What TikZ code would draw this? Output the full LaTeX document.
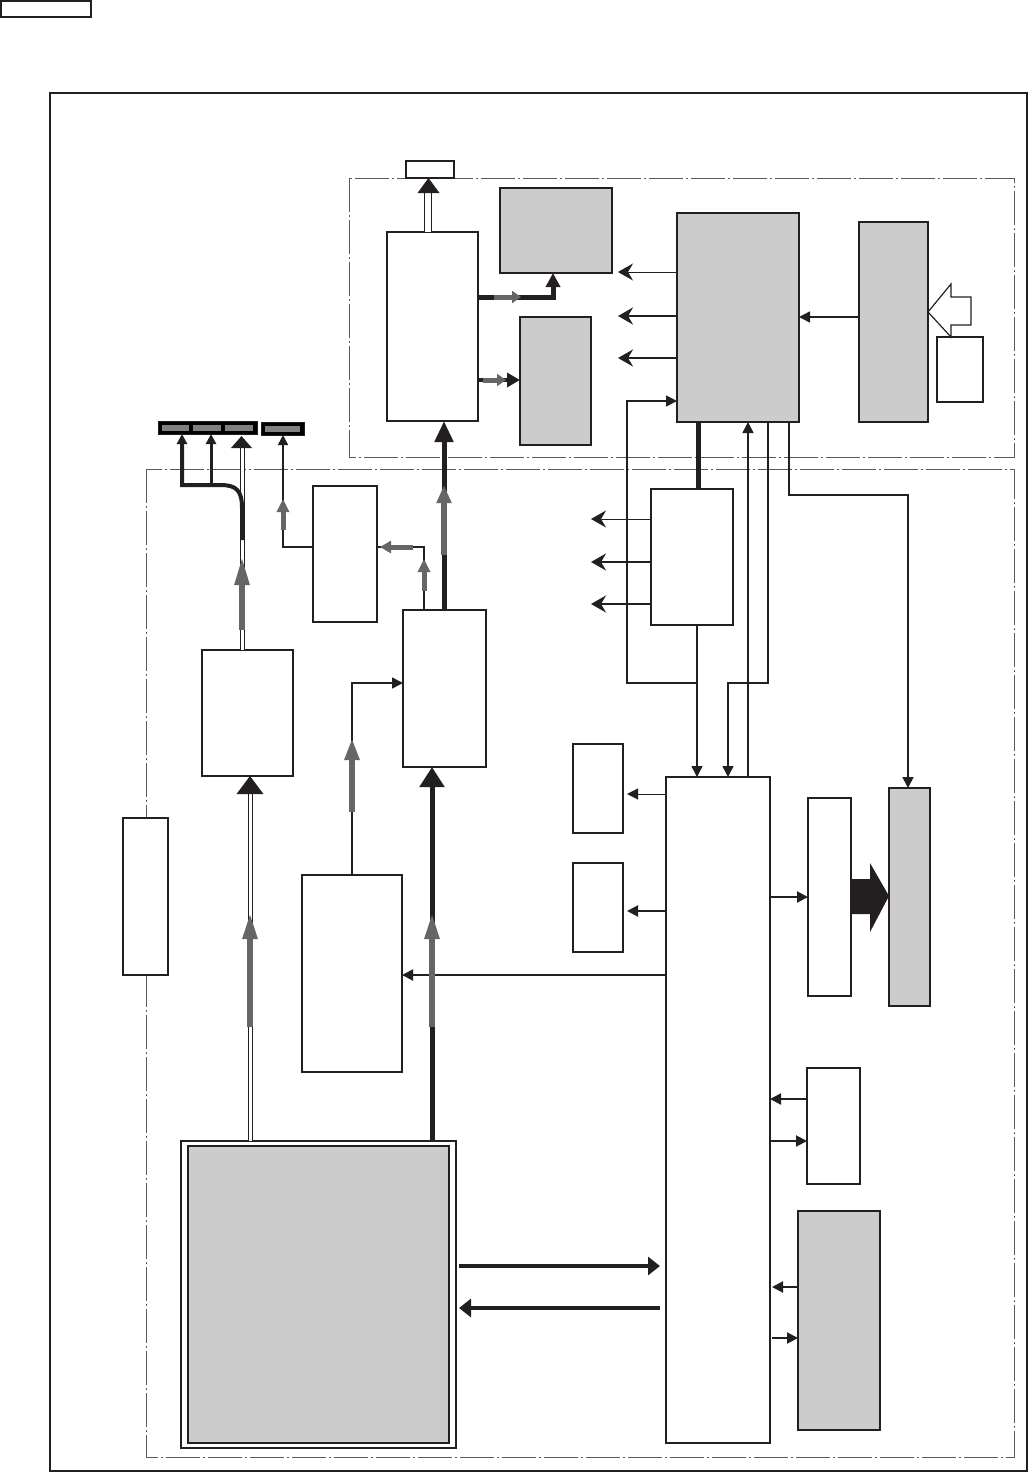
\documentclass[tikz,border=0pt]{standalone}
\usetikzlibrary{arrows.meta}
\definecolor{boxgray}{HTML}{CCCCCC}
\definecolor{arrgray}{HTML}{666666}
\definecolor{dashgray}{HTML}{5A5A5A}
\definecolor{inkblack}{HTML}{231F20}
\newcommand\mkbox[6]{\node[#2, minimum width={(#5-#3)*1pt}, minimum height={(#6-#4)*1pt}] (#1) at ({(#3+#5)/2},{(#4+#6)/2}) {};}
\begin{document}
\begin{tikzpicture}[x=1pt,y=-1pt,
  box/.style={draw=inkblack, line width=1.6pt, fill=white, inner sep=0pt, outer sep=0pt},
  gbox/.style={box, fill=boxgray},
  tbox/.style={box, line width=1.1pt},
  conbox/.style={box, fill=black, line width=0pt},
  dd/.style={dashgray, line width=1pt, dash pattern=on 34pt off 3pt on 2pt off 3pt},
  ln/.style={inkblack, line width=1.6pt},
  thinln/.style={inkblack, line width=1pt},
  tipS/.style={-{Stealth[length=15pt,width=17pt,inset=5pt]}},
  tipT/.style={-{Triangle[length=11pt,width=11pt]}},
  thk/.style={inkblack, line width=5pt},
  garr/.style={arrgray, line width=5.5pt, -{Triangle[length=26pt,width=14pt]}},
  gsm/.style={arrgray, line width=5pt, -{Triangle[length=9pt,width=12pt]}},
  hollow/.style={draw=inkblack, double=white, line width=1pt},
  headfill/.style={fill=inkblack},
]
\useasboundingbox (0,0) rectangle (1029,1473);

% legend box and outer frame
\mkbox{legend}{tbox}{1}{1}{91}{17}
\draw[inkblack, line width=2pt] (50,93) rectangle (1027,1471);
\draw[dd] (349,178) rectangle (1014,457);
\draw[dd] (146,469) rectangle (1014,1457);

% ---------- top region ----------
\mkbox{topbox}{tbox}{406}{161}{454}{178}
\mkbox{A}{box}{387}{232}{478}{421}
\mkbox{B1}{gbox}{500}{188}{612}{273}
\mkbox{B2}{gbox}{520}{317}{591}{445}
\mkbox{C}{gbox}{677}{213}{799}{422}
\mkbox{D}{gbox}{859}{222}{928}{422}
\mkbox{E}{tbox}{937}{337}{983}{402}

% A -> topbox (hollow)
\draw[hollow, double distance=6pt] (A.north -| 428,0) -- (428,192);
\fill[headfill] (417.5,193) -- (439.5,193) -- (topbox.south -| 428.5,0) -- cycle;

% A -> B1, A -> B2
\draw[thk, -{Triangle[length=14pt,width=14pt]}] (A.east |- 0,297) -| (B1.south -| 553,0);
\draw[gsm] (494,297) -- (521,297);
\draw[thk, line width=4.5pt, -{Triangle[length=13pt,width=14pt]}] (A.east |- 0,380) -- (B2.west |- 0,380);
\draw[gsm] (483,380) -- (506,380);

% C -> left
\draw[thinln, tipS] (C.west |- 0,272) -- (618,272);
\draw[ln, line width=2pt, tipS] (C.west |- 0,316) -- (618,316);
\draw[ln, line width=2pt, tipS] (C.west |- 0,358) -- (618,358);

% D -> C
\draw[ln, tipT] (D.west |- 0,317) -- (C.east |- 0,317);
% hollow arrow into D
\draw[inkblack, line width=1.2pt, fill=white] (D.east |- 0,312) -- (951,284) -- (951,297) -- (971,297) -- (971,325) -- (951,325) -- (951,337) -- cycle;

% ---------- lower region ----------
\mkbox{F}{box}{651}{489}{733}{625}
\mkbox{G}{box}{666}{777}{770}{1443}
\mkbox{H}{gbox}{889}{788}{930}{1006}
\mkbox{I}{box}{808}{798}{851}{996}
\mkbox{J1}{tbox}{573}{744}{623}{833}
\mkbox{J2}{tbox}{573}{863}{623}{952}
\mkbox{K}{box}{302}{875}{402}{1072}
\mkbox{L}{box}{403}{610}{486}{767}
\mkbox{N}{box}{313}{486}{377}{622}
\mkbox{O}{box}{202}{650}{293}{776}
\mkbox{S}{box}{123}{818}{168}{975}
\mkbox{Q}{box}{807}{1068}{860}{1184}
\mkbox{R}{gbox}{798}{1211}{880}{1430}
\mkbox{Mo}{box}{181}{1141}{456}{1448}
\mkbox{M}{gbox}{188}{1146}{449}{1443}
\mkbox{P1}{conbox}{158}{421}{257}{434}
\mkbox{P2}{conbox}{261}{422}{304}{435}
\fill[gray] (162,424.5) rectangle (189,430.5);
\fill[gray] (193,424.5) rectangle (221,430.5);
\fill[gray] (225,424.5) rectangle (253,430.5);
\fill[gray] (265,425.5) rectangle (300,431.5);

% C -> F thick bus
\draw[thk, line width=5pt] (C.south -| 698,0) -- (F.north -| 698,0);
% F -> left
\draw[thinln, tipS] (F.west |- 0,519) -- (591,519);
\draw[ln, line width=2pt, tipS] (F.west |- 0,562) -- (591,562);
\draw[ln, line width=2pt, tipS] (F.west |- 0,604) -- (591,604);
% F -> G, and branch to C
\draw[ln, tipT] (F.south -| 697,0) -- (G.north -| 697,0);
\draw[ln, tipT] (697,683) -- (627,683) -- (627,401) -- (C.west |- 0,401);
% C -> G
\draw[ln, tipT] (C.south -| 768,0) -- (768,683) -- (728,683) -- (G.north -| 728,0);
% G -> C
\draw[ln, tipT] (G.north -| 748,0) -- (C.south -| 748,0);
% C -> H
\draw[ln, tipT] (C.south -| 789,0) -- (789,495) -- (908,495) -- (H.north -| 908,0);

% G -> J1, J2, K, I
\draw[thinln, tipT] (G.west |- 0,794) -- ([xshift=4pt]J1.east |- 0,794);
\draw[ln, line width=2pt, tipT] (G.west |- 0,911) -- ([xshift=4pt]J2.east |- 0,911);
\draw[ln, line width=2pt, tipT] (G.west |- 0,975) -- (K.east |- 0,975);
\draw[ln, line width=2pt, tipT] (G.east |- 0,897) -- (I.west |- 0,897);
% I -> H fat arrow
\fill[inkblack] (I.east |- 0,879) -- (870,879) -- (870,863) -- (H.west |- 0,896) -- (870,932) -- (870,914) -- (I.east |- 0,914) -- cycle;

% Q and R
\draw[ln, line width=2pt, tipT] (Q.west |- 0,1099) -- (G.east |- 0,1099);
\draw[ln, line width=2pt, tipT] (G.east |- 0,1141) -- (Q.west |- 0,1141);
\draw[ln, line width=2pt, tipT] (R.west |- 0,1287) -- ([xshift=2pt]G.east |- 0,1287);
\draw[ln, line width=2pt, tipT] ([xshift=2pt]G.east |- 0,1338) -- (R.west |- 0,1338);

% M <-> G
\draw[thk, line width=4pt, -{Triangle[length=12pt,width=18pt]}] ([xshift=3pt]Mo.east |- 0,1266) -- ([xshift=-6pt]G.west |- 0,1266);
\draw[thk, line width=4pt, -{Triangle[length=12pt,width=18pt]}] ([xshift=-6pt]G.west |- 0,1308) -- ([xshift=3pt]Mo.east |- 0,1308);

% M -> L (thick) with gray overlay
\draw[thk, -{Triangle[length=20pt,width=24pt]}] (Mo.north -| 432,0) -- (L.south -| 432,0);
\draw[garr] (432,1027) -- (432,913);
% L -> A (thick) with gray overlay
\draw[thk, -{Triangle[length=21pt,width=18pt]}] (L.north -| 444,0) -- (A.south -| 444,0);
\draw[garr, -{Triangle[length=18pt,width=14pt]}] (444,555) -- (444,485);
% K -> L
\draw[ln, -{Triangle[length=11pt,width=11pt]}] (K.north) -- (352,683) -- (L.west |- 0,683);
\draw[garr, -{Triangle[length=22pt,width=14pt]}] (352,812) -- (352,738);
% L -> N
\draw[ln] (L.north -| 424,0) -- (424,547) -- (N.east |- 0,547);
\draw[gsm, -{Triangle[length=13pt,width=12pt]}] (424,591) -- (424,559);
\draw[gsm, -{Triangle[length=11pt,width=12pt]}] (413,547) -- (380,547);
% N -> P2
\draw[ln, -{Triangle[length=10pt,width=10pt]}] (N.west |- 0,547) -- (283,547) -- (P2.south -| 283,0);
\draw[gsm, -{Triangle[length=13pt,width=12pt]}] (283,530) -- (283,499);

% M -> O (hollow)
\draw[hollow, double distance=3pt] (Mo.north -| 250,0) -- (250,793);
\fill[headfill] (236.5,794) -- (263.5,794) -- (O.south -| 250,0) -- cycle;
\draw[garr] (250,1027) -- (250,913);

% O -> P1 (hollow) and black branch lines
\draw[hollow, double distance=3pt] (O.north -| 242,0) -- (242,447);
\fill[headfill] (231,448) -- (252,448) -- ([yshift=-2pt]P1.south -| 241.5,0) -- cycle;
\draw[garr, -{Triangle[length=28pt,width=14pt]}] (242,630) -- (242,557);
\draw[thk, line width=4pt, -{Triangle[length=10pt,width=10pt]}] (242,540) -- (242,508) .. controls (242,490) and (236,485) .. (220,485) -- (182,485) -- (P1.south -| 182,0);
\draw[thk, line width=3pt, -{Triangle[length=10pt,width=10pt]}] (211,485) -- (P1.south -| 211,0);
\end{tikzpicture}
\end{document}
